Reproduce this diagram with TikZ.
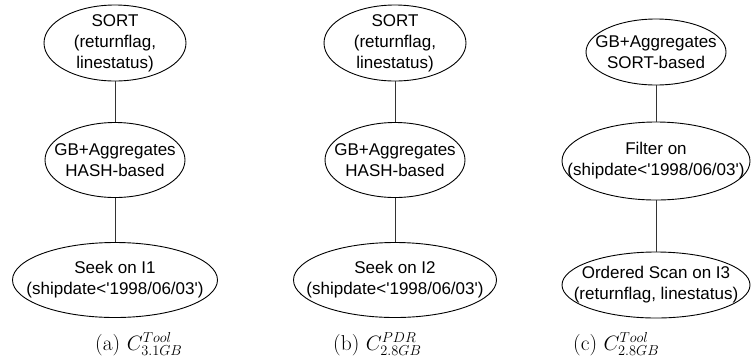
\documentclass[tikz,border=0pt]{standalone}
\usepackage{fontspec}
\newfontfamily\arialf{Liberation Sans}
\usetikzlibrary{shapes.geometric}
\tikzset{
  ell/.style={draw, ellipse, inner sep=0pt, line width=0.9pt},
  lbl/.style={font=\arialf\fontsize{17}{21}\selectfont, align=center, inner sep=0pt},
  captxt/.style={font=\fontsize{21.5}{25}\selectfont, anchor=base west, inner sep=0pt},
  conn/.style={draw=black!80, line width=0.9pt}
}
\begin{document}
\begin{tikzpicture}[x=1pt,y=-1pt]
\useasboundingbox[fill=white] (0,0) rectangle (751,360);
% panel (a)
\node[ell, minimum width=142, minimum height=76] (a1) at (115,43) {};
\node[lbl] (a1t) at (a1.center) {SORT\\(returnflag,\\linestatus)};
\node[ell, minimum width=140, minimum height=75] (a2) at (115,160) {};
\node[lbl] (a2t) at (a2.center) {GB+Aggregates\\HASH-based};
\node[ell, minimum width=205, minimum height=75] (a3) at (115,280) {};
\node[lbl] (a3t) at (a3.center) {Seek on I1\\(shipdate<'1998/06/03')};
\draw[conn] (a1) -- (a2);
\draw[conn] (a2) -- (a3);
\node[captxt] (acap) at (95,350) {(a) $C^{Tool}_{3.1GB}$};
% panel (b)
\node[ell, minimum width=142, minimum height=76] (b1) at (395,43) {};
\node[lbl] (b1t) at (b1.center) {SORT\\(returnflag,\\linestatus)};
\node[ell, minimum width=140, minimum height=75] (b2) at (395,160) {};
\node[lbl] (b2t) at (b2.center) {GB+Aggregates\\HASH-based};
\node[ell, minimum width=203, minimum height=75] (b3) at (395,280) {};
\node[lbl] (b3t) at (b3.center) {Seek on I2\\(shipdate<'1998/06/03')};
\draw[conn] (b1) -- (b2);
\draw[conn] (b2) -- (b3);
\node[captxt] (bcap) at (333,350) {(b) $C^{PDR}_{2.8GB}$};
% panel (c)
\node[ell, minimum width=140, minimum height=66] (c1) at (656,52) {};
\node[lbl] (c1t) at (c1.center) {GB+Aggregates\\SORT-based};
\node[ell, minimum width=188, minimum height=78] (c2) at (656,161) {};
\node[lbl] (c2t) at (c2.center) {Filter on\\(shipdate<'1998/06/03')};
\node[ell, minimum width=188, minimum height=66] (c3) at (656,285) {};
\node[lbl] (c3t) at (c3.center) {Ordered Scan on I3\\(returnflag, linestatus)};
\draw[conn] (c1) -- (c2);
\draw[conn] (c2) -- (c3);
\node[captxt] (ccap) at (573,350) {(c) $C^{Tool}_{2.8GB}$};
\end{tikzpicture}
\end{document}
